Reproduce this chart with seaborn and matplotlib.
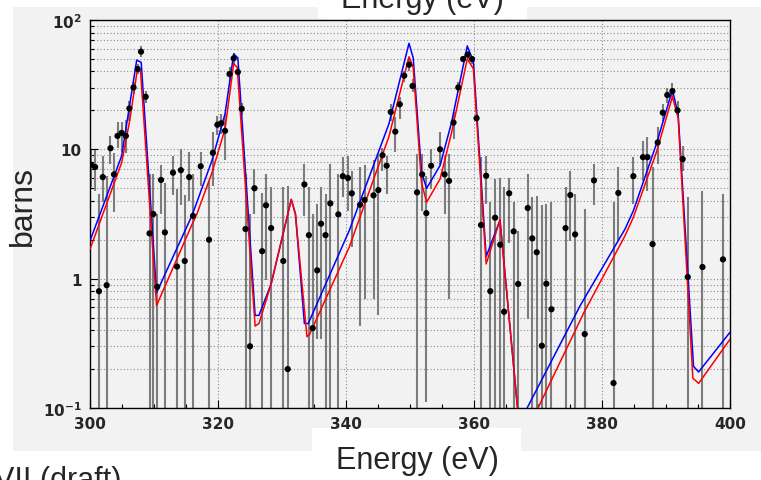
import numpy as np
import pandas as pd
import matplotlib
matplotlib.use("Agg")
import matplotlib.pyplot as plt
import seaborn as sns
from matplotlib.ticker import FixedLocator, MultipleLocator, LogLocator, NullFormatter, FixedFormatter
from matplotlib.patches import Rectangle

# ---------------- data ----------------
energy = [300.15, 300.8, 301.4, 302.0, 302.6, 303.2, 303.75, 304.3, 304.95, 305.6,
          306.15, 306.8, 307.45, 307.97, 308.7, 309.3, 309.9, 310.5, 311.1, 311.7,
          312.97, 313.6, 314.2, 314.8, 315.5, 316.1, 317.3, 318.6, 319.2, 319.9,
          320.5, 321.1, 321.8, 322.45, 323.1, 323.7, 324.3, 325.0, 325.7, 326.9,
          327.5, 328.3, 330.2, 330.9, 333.5, 334.2, 334.8, 335.5, 336.1, 336.8,
          337.55, 338.8, 339.5, 340.3, 340.9, 342.2, 342.9, 344.3, 345.05, 345.7,
          346.35, 347.0, 347.7, 348.4, 349.1, 349.85, 350.4, 351.1, 351.9, 352.55,
          353.3, 354.7, 355.4, 356.1, 356.8, 357.55, 358.3, 359.0, 359.7, 360.4,
          361.1, 361.9, 362.55, 363.3, 364.1, 364.7, 365.5, 366.2, 366.9, 368.4,
          369.1, 369.8, 370.6, 371.3, 372.1, 374.3, 375.05, 375.8, 377.3, 378.75,
          381.8, 382.55, 384.9, 386.4, 387.1, 387.9, 388.7, 389.5, 390.2, 391.0,
          391.8, 392.6, 393.4, 395.7, 398.9]
sigma = [7.6, 7.3, 0.80, 6.1, 0.89, 10.2, 6.4, 12.7, 13.4, 12.7,
         20.7, 30.1, 41.8, 56.9, 25.5, 2.24, 3.16, 0.865, 5.8, 2.28,
         6.6, 1.24, 6.9, 1.37, 6.1, 3.06, 7.4, 2.0, 9.4, 15.5,
         15.9, 13.9, 38.2, 50.5, 39.6, 20.6, 2.42, 0.30, 5.0, 1.63,
         3.69, 2.46, 1.37, 0.20, 5.35, 2.17, 0.415, 1.16, 2.66, 2.17,
         3.82, 3.14, 6.2, 6.0, 4.57, 3.73, 4.06, 4.41, 4.84, 9.0,
         7.47, 19.4, 13.7, 22.3, 37.1, 45.1, 30.9, 4.65, 6.4, 3.21,
         7.47, 10.0, 6.4, 5.7, 16.1, 30.1, 49.9, 53.9, 49.9, 17.4,
         2.6, 6.25, 0.80, 2.96, 1.83, 0.555, 4.57, 2.32, 0.91, 3.52,
         2.05, 1.6, 0.303, 0.914, 0.58, 2.46, 4.43, 2.2, 0.373, 5.75,
         0.156, 4.6, 6.2, 8.7, 8.7, 1.85, 11.3, 19.2, 26.3, 28.2,
         20.0, 8.4, 1.03, 1.23, 1.41]
sigma_hi = [9.9, 9.8, 4.5, 8.9, 6.2, 12.7, 9.4, 16.2, 16.2, 16.9,
            23.8, 33, 46, 63, 28.4, 6.4, 6.4, 3.16, 7.5, 5.5,
            8.9, 4.9, 10, 4.4, 9.5, 6.4, 9.5, 5.7, 13.5, 18.2,
            18.8, 18.8, 43, 56, 44, 23, 6.4, 3.16, 7.1, 4.6,
            6.4, 5.1, 5.1, 5.2, 7.7, 5.1, 3.16, 3.8, 5.1, 4.5,
            7.7, 6.4, 8.7, 8.9, 6.8, 7.3, 7.5, 8.2, 9.2, 10.3,
            8.9, 22.4, 17.7, 25.2, 40.6, 50, 35, 9.2, 9.2, 6.25,
            10, 13.5, 8.9, 9.2, 19.3, 33, 53, 58, 53, 18.8,
            8.7, 8.9, 3.9, 5.9, 6.05, 5.1, 6.05, 3.9, 2.35, 6.5,
            4.3, 4.35, 3.7, 3.8, 3.9, 5.1, 6.8, 4.5, 3.46, 7.7,
            3.9, 7.3, 8.7, 11.6, 12.4, 7.3, 14.8, 22.4, 30, 32.4,
            23.8, 10.6, 4.3, 4.8, 4.5]
sigma_lo = [5.1, 4.8, 0, 3.9, 0, 7.7, 3.3, 10.3, 9.6, 9.3,
            16.6, 26.8, 38, 51.5, 23, 0, 0, 0, 3.16, 0,
            4.4, 0, 3.7, 0, 4.0, 0, 5.2, 0, 5.2, 12.8,
            13.1, 8.2, 34, 46, 36, 18.5, 0, 0, 3.16, 0,
            0.97, 0, 0, 0, 3.06, 0, 0, 0.34, 0.34, 0,
            0, 0, 4.3, 3.35, 1.75, 0.43, 0.7, 0.7, 0.52, 6.8,
            4.5, 16.6, 9.5, 17.2, 32.9, 40.6, 27.6, 0, 3.35, 0.112,
            4.9, 7.5, 3.16, 0.7, 12.1, 27.6, 47, 50, 45.7, 16.2,
            0, 3.8, 0, 0, 0, 0, 1.9, 0, 0, 0.49,
            0, 0, 0, 0, 0, 0, 1.96, 0, 0, 3.7,
            0, 1.96, 3.8, 5.7, 4.8, 0, 7.7, 16.6, 23, 25.2,
            17.7, 6.8, 0, 0, 0]

blue_E = [300.0, 304.95, 306.1, 307.3, 308.0, 310.4, 315.9, 316.7, 319.06, 321.1,
          322.45, 323.1, 325.8, 326.4, 328.3, 331.45, 332.1, 333.5, 334.1, 340.5,
          346.7, 349.84, 350.5, 351.8, 352.6, 354.7, 356.5, 358.95, 359.9, 361.9,
          364.06, 366.8, 367.5, 368.3, 376.6, 383.6, 384.9, 388.5, 391.0, 391.9,
          394.3, 395.1, 400.0]
blue_v = [1.96, 8.9, 20.5, 49, 47, 0.78, 3.05, 3.9, 8.2, 18.8,
          54.6, 51, 0.52, 0.52, 0.91, 4.1, 3.16, 0.45, 0.45, 2.35,
          15.7, 66, 51, 6.6, 5.0, 7.5, 16.2, 63, 48, 1.48,
          2.84, 0.1, 0.085, 0.1, 0.62, 2.42, 3.35, 11, 28.8, 18.7,
          0.21, 0.19, 0.385]
red_E = [300.0, 304.95, 306.2, 307.45, 307.9, 310.4, 315.9, 316.7, 319.06, 321.1,
         322.45, 323.0, 325.8, 326.4, 328.3, 331.45, 332.1, 333.9, 334.3, 340.5,
         346.7, 349.84, 350.5, 351.8, 352.6, 354.7, 356.5, 358.95, 359.9, 361.9,
         364.06, 366.8, 368.5, 370.0, 377.2, 383.6, 384.9, 388.5, 391.0, 391.9,
         394.2, 395.1, 400.0]
red_v = [1.69, 7.9, 16.6, 43, 40, 0.62, 2.6, 3.16, 6.6, 14.4,
         46, 43, 0.43, 0.45, 0.91, 4.1, 3.16, 0.356, 0.37, 1.75,
         12.5, 52, 43, 5.5, 3.9, 5.9, 13.5, 50, 42, 1.3,
         2.84, 0.1, 0.07, 0.1, 0.55, 2.15, 2.98, 9.5, 25.5, 17.5,
         0.17, 0.155, 0.34]

y_ticks = [0.1, 1, 10, 100]
y_ticklabels = [r"$\mathbf{10^{-1}}$", "1", "10", r"$\mathbf{10^{2}}$"]

# ---------------- figure ----------------
sns.set_theme(style="ticks")
plt.rcParams["font.family"] = ["Liberation Sans", "DejaVu Sans"]
plt.rcParams["mathtext.fontset"] = "dejavusans"

W, H = 761, 481
fig = plt.figure(figsize=(W / 100, H / 100), dpi=100)
fig.patch.set_facecolor("white")


def frect(x0, y0, x1, y1, color, z):
    fig.add_artist(Rectangle((x0 / W, 1 - y1 / H), (x1 - x0) / W, (y1 - y0) / H,
                             transform=fig.transFigure, facecolor=color,
                             edgecolor="none", zorder=z))


frect(13, 8, 761, 452, "#f2f2f2", -10)
frect(318, 0, 527, 20, "white", -9)
frect(312, 429, 521, 481, "white", -9)

ax = fig.add_axes([90 / W, (H - 409) / H, 640 / W, 388 / H])
ax.set_facecolor("#f2f2f2")
ax.set_yscale("log")
ax.set_axisbelow(True)

E = np.array(energy)
s = np.array(sigma)
hi = np.array(sigma_hi)
lo = np.maximum(np.array(sigma_lo), 1e-3)
ax.vlines(E, lo, hi, color="#7c7c7c", lw=1.5, zorder=2)

blue_df = pd.DataFrame({"E": blue_E, "v": blue_v})
red_df = pd.DataFrame({"E": red_E, "v": red_v})
sns.lineplot(data=blue_df, x="E", y="v", color="#0000ff", lw=1.1,
             estimator=None, sort=False, ax=ax, zorder=3)
sns.lineplot(data=red_df, x="E", y="v", color="#ff0000", lw=1.1,
             estimator=None, sort=False, ax=ax, zorder=3.1)
pts = pd.DataFrame({"E": E, "s": s})
sns.scatterplot(data=pts, x="E", y="s", color="black", s=20, edgecolor="none",
                ax=ax, zorder=4)

ax.set_xlim(300, 400)
ax.set_ylim(0.1, 100)
ax.xaxis.set_major_locator(MultipleLocator(20))
ax.xaxis.set_minor_locator(MultipleLocator(5))
ax.yaxis.set_major_locator(FixedLocator(y_ticks))
ax.yaxis.set_major_formatter(FixedFormatter(y_ticklabels))
ax.yaxis.set_minor_locator(LogLocator(base=10, subs=np.arange(2, 10)))
ax.yaxis.set_minor_formatter(NullFormatter())
ax.tick_params(which="both", direction="in", top=False, right=False,
               labelsize=11, color="black", width=0.8)
ax.tick_params(which="major", length=6, pad=6)
ax.tick_params(which="minor", length=3)
for lab in ax.get_xticklabels() + ax.get_yticklabels():
    lab.set_fontweight("bold")
    lab.set_family("DejaVu Sans")

ax.grid(which="major", axis="x", ls=(0, (1, 2)), color="#8a8a8a", lw=0.8)
ax.grid(which="both", axis="y", ls=(0, (1, 2)), color="#8a8a8a", lw=0.8)
for sp in ax.spines.values():
    sp.set_color("black")
    sp.set_linewidth(1.0)
ax.set_xlabel("")
ax.set_ylabel("")

fig.text(23 / W, 1 - 206 / H, "barns", rotation=90, ha="center", va="center",
         fontsize=23)
fig.text(417 / W, 1 - 469 / H, "Energy (eV)", ha="center", va="baseline",
         fontsize=22)
fig.text(422 / W, 1 - 8 / H, "Energy (eV)", ha="center", va="baseline",
         fontsize=22)
fig.text(121 / W, -8 / H, "ENDF/B-VII (draft)", ha="right", va="baseline",
         fontsize=22)

fig.savefig("out.png", dpi=100)
